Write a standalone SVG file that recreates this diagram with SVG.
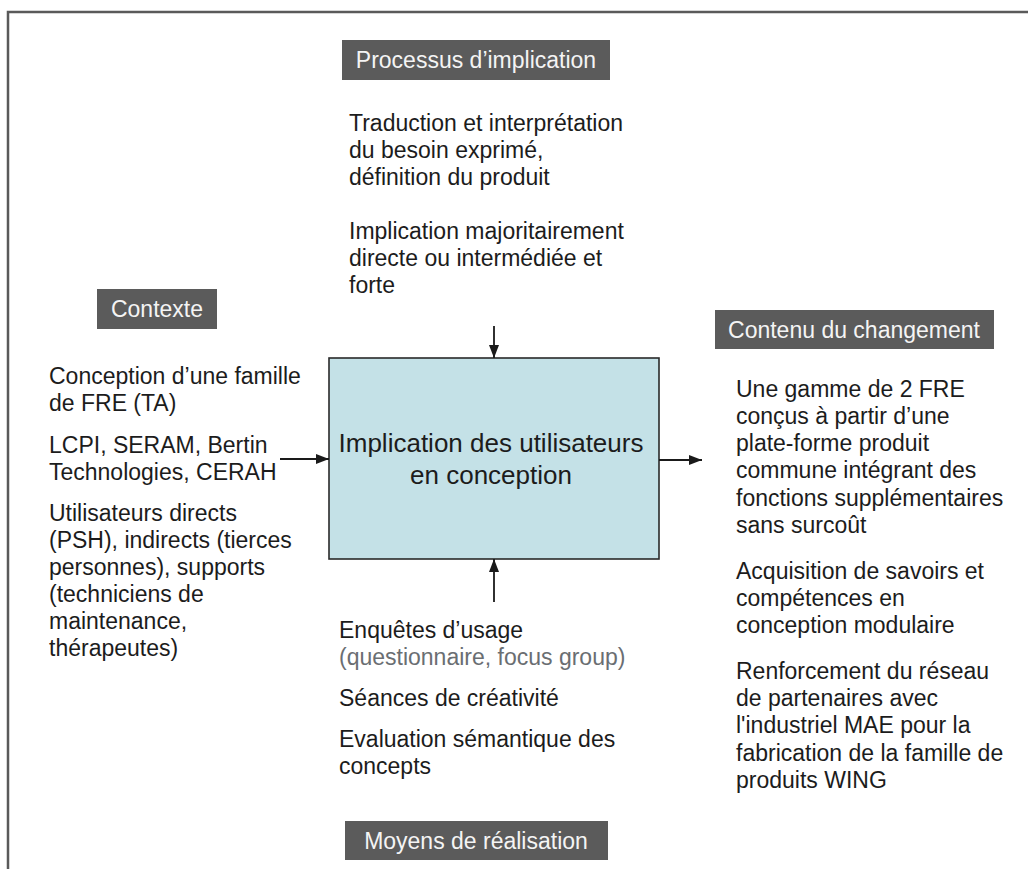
<svg xmlns="http://www.w3.org/2000/svg" width="1028" height="869" viewBox="0 0 1028 869">
<defs>
<marker id="ah" markerWidth="13" markerHeight="10" refX="13" refY="5" orient="auto" markerUnits="userSpaceOnUse">
<path d="M0,0 L13,5 L0,10 Z" fill="#1a1a1a"/>
</marker>
<style>
text{font-family:"Liberation Sans",Arial,Helvetica,sans-serif;font-size:23px;fill:#1c1c1c}
.hdr rect{fill:#5b5b5b}
.hdr text{fill:#f4f4f4;text-anchor:middle}
.grey{fill:#6a6e72}
.conn line{stroke:#1a1a1a;stroke-width:1.8;marker-end:url(#ah)}
</style>
</defs>
<rect x="0" y="0" width="1028" height="869" fill="#ffffff"/>
<path d="M8,869 V12 H1028" fill="none" stroke="#5a5a5a" stroke-width="2.5"/>

<g id="hdr-processus" class="hdr">
<rect x="342" y="40" width="268" height="40"/>
<text x="476" y="68">Processus d’implication</text>
</g>
<g id="hdr-contexte" class="hdr">
<rect x="97" y="289" width="120" height="40"/>
<text x="157" y="317">Contexte</text>
</g>
<g id="hdr-contenu" class="hdr">
<rect x="715" y="310" width="279" height="39"/>
<text x="854" y="338">Contenu du changement</text>
</g>
<g id="hdr-moyens" class="hdr">
<rect x="345" y="821" width="263" height="39"/>
<text x="476" y="849">Moyens de réalisation</text>
</g>

<g id="txt-processus">
<text x="349" y="131">Traduction et interprétation</text>
<text x="349" y="158">du besoin exprimé,</text>
<text x="349" y="185">définition du produit</text>
<text x="349" y="239">Implication majoritairement</text>
<text x="349" y="266">directe ou intermédiée et</text>
<text x="349" y="293">forte</text>
</g>

<g id="txt-contexte">
<text x="49" y="384">Conception d’une famille</text>
<text x="49" y="411">de FRE (TA)</text>
<text x="49" y="453">LCPI, SERAM, Bertin</text>
<text x="49" y="480">Technologies, CERAH</text>
<text x="49" y="521">Utilisateurs directs</text>
<text x="49" y="548">(PSH), indirects (tierces</text>
<text x="49" y="575">personnes), supports</text>
<text x="49" y="602">(techniciens de</text>
<text x="49" y="629">maintenance,</text>
<text x="49" y="656">thérapeutes)</text>
</g>

<g id="node-implication">
<rect x="329" y="358" width="330" height="201" fill="#c4e1e7" stroke="#2a2a2a" stroke-width="1.6"/>
<text x="491" y="452" text-anchor="middle" style="font-size:26px">Implication des utilisateurs</text>
<text x="491" y="484" text-anchor="middle" style="font-size:26px">en conception</text>
</g>

<g id="txt-contenu">
<text x="736" y="397">Une gamme de 2 FRE</text>
<text x="736" y="424">conçus à partir d’une</text>
<text x="736" y="451">plate-forme produit</text>
<text x="736" y="478">commune intégrant des</text>
<text x="736" y="506">fonctions supplémentaires</text>
<text x="736" y="533">sans surcoût</text>
<text x="736" y="579">Acquisition de savoirs et</text>
<text x="736" y="606">compétences en</text>
<text x="736" y="633">conception modulaire</text>
<text x="736" y="679">Renforcement du réseau</text>
<text x="736" y="706">de partenaires avec</text>
<text x="736" y="733">l'industriel MAE pour la</text>
<text x="736" y="761">fabrication de la famille de</text>
<text x="736" y="788">produits WING</text>
</g>

<g id="txt-moyens">
<text x="339" y="638">Enquêtes d’usage</text>
<text x="339" y="665" class="grey">(questionnaire, focus group)</text>
<text x="339" y="706">Séances de créativité</text>
<text x="339" y="747">Evaluation sémantique des</text>
<text x="339" y="774">concepts</text>
</g>

<g id="connectors" class="conn">
<line x1="494" y1="326" x2="494" y2="358"/>
<line x1="494" y1="602" x2="494" y2="559"/>
<line x1="280" y1="459" x2="329" y2="459"/>
<line x1="659" y1="460" x2="702" y2="460"/>
</g>
</svg>
